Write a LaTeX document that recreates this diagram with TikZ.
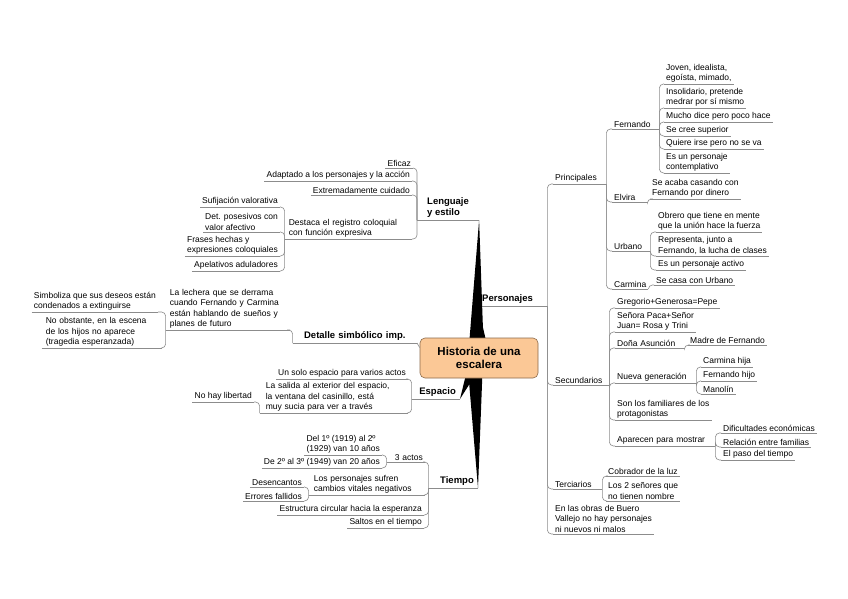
\documentclass[tikz,border=0pt]{standalone}
\usepackage{fontspec}
\setmainfont{Liberation Sans}
\usepackage{tikz}
\definecolor{LineGray}{HTML}{8C8C8C}
\definecolor{RootFill}{HTML}{FBC896}
\definecolor{RootDraw}{HTML}{8C6A4A}
\tikzset{
  uline/.style={draw=LineGray,line width=0.6pt},
  topic/.style={inner xsep=2pt,inner ysep=1.5pt,align=left,font=\fontsize{8.5}{10.4}\selectfont,
    append after command={(\tikzlastnode.south west) edge[uline] (\tikzlastnode.south east)}},
  rtopic/.style={topic,anchor=south west},
  ltopic/.style={topic,anchor=south east},
  maintopic/.style={topic,inner xsep=4pt,inner ysep=2pt,font=\bfseries\fontsize{9.5}{11.5}\selectfont},
  conn/.style={draw=LineGray,line width=0.6pt,rounded corners=4pt},
  wedge/.style={fill=black},
  central/.style={draw=RootDraw,fill=RootFill,line width=0.6pt,rounded corners=5pt,minimum width=118pt,minimum height=40pt,align=center,font=\bfseries\fontsize{11.5}{13}\selectfont}
}
\begin{document}
\begin{tikzpicture}[x=1pt,y=-1pt]
\fill[white] (0,0) rectangle (848,599);
\useasboundingbox (0,0) rectangle (848,599);

\node[maintopic,anchor=south west,text width=61pt] (pers) at (478,306) {Personajes};
\node[rtopic,text width=49pt] (prin) at (553,184) {Principales};
\node[rtopic,text width=52pt] (sec) at (553,385) {Secundarios};
\node[rtopic,text width=45pt] (terc) at (553,489) {Terciarios};
\node[rtopic] (buero) at (553,534) {En las obras de Buero\\Vallejo no hay personajes\\ni nuevos ni malos};

\node[rtopic,text width=43pt] (fer) at (612,129) {Fernando};
\node[rtopic,text width=31pt] (elv) at (612,202) {Elvira};
\node[rtopic,text width=34pt] (urb) at (612,251) {Urbano};
\node[rtopic,text width=32pt] (carm) at (612,289) {Carmina};

\node[rtopic] (fer1) at (664,84) {Joven, idealista,\\egoísta, mimado,};
\node[rtopic] (fer2) at (664,108) {Insolidario, pretende\\medrar por sí mismo};
\node[rtopic] (fer3) at (664,122) {Mucho dice pero poco hace};
\node[rtopic] (fer4) at (664,136) {Se cree superior};
\node[rtopic] (fer5) at (664,149) {Quiere irse pero no se va};
\node[rtopic] (fer6) at (664,173) {Es un personaje\\contemplativo};
\node[rtopic] (elv1) at (650,199) {Se acaba casando con\\Fernando por dinero};
\node[rtopic] (urb1) at (656,232) {Obrero que tiene en mente\\que la unión hace la fuerza};
\node[rtopic] (urb2) at (656,256) {Representa, junto a\\Fernando, la lucha de clases};
\node[rtopic] (urb3) at (656,270) {Es un personaje activo};
\node[rtopic] (carm1) at (654,285) {Se casa con Urbano};

\node[rtopic] (sec1) at (615,308) {Gregorio+Generosa=Pepe};
\node[rtopic] (sec2) at (615,332) {Señora Paca+Señor\\Juan= Rosa y Trini};
\node[rtopic,text width=65pt] (sec3) at (615,348) {Doña Asunción};
\node[rtopic,text width=77pt] (sec4) at (615,383) {Nueva generación};
\node[rtopic] (sec5) at (615,420) {Son los familiares de los\\protagonistas};
\node[rtopic,text width=96pt] (sec6) at (615,446) {Aparecen para mostrar};
\node[rtopic] (asu1) at (688,345) {Madre de Fernando};
\node[rtopic] (nue1) at (701,367) {Carmina hija};
\node[rtopic] (nue2) at (701,381) {Fernando hijo};
\node[rtopic] (nue3) at (701,394) {Manolín};
\node[rtopic] (apa1) at (721,433) {Dificultades económicas};
\node[rtopic] (apa2) at (721,447) {Relación entre familias};
\node[rtopic] (apa3) at (721,460) {El paso del tiempo};
\node[rtopic] (terc1) at (606,476) {Cobrador de la luz};
\node[rtopic] (terc2) at (606,501) {Los 2 señores que\\no tienen nombre};

\node[maintopic,anchor=south west,inner xsep=10pt] (len) at (417,220) {Lenguaje\\y estilo};
\node[ltopic] (len1) at (413,168) {Eficaz};
\node[ltopic] (len2) at (412,181) {Adaptado a los personajes y la acción};
\node[ltopic] (len3) at (412,195) {Extremadamente cuidado};
\node[ltopic,inner xsep=4pt,text width=119pt] (len4) at (412,239) {Destaca el registro coloquial\\con función expresiva};
\node[ltopic] (des1) at (280,207) {Sufijación valorativa};
\node[ltopic] (des2) at (280,232) {Det. posesivos con\\valor afectivo};
\node[ltopic] (des3) at (280,256) {Frases hechas y\\expresiones coloquiales};
\node[ltopic] (des4) at (280,271) {Apelativos aduladores};

\node[maintopic,anchor=south east,text width=116pt,align=center] (det) at (417,343) {Detalle simbólico imp.};
\node[ltopic,inner xsep=4pt,text width=116pt] (lech) at (290,330) {La lechera que se derrama\\cuando Fernando y Carmina\\están hablando de sueños y\\planes de futuro};
\node[ltopic] (lech1) at (158,312) {Simboliza que sus deseos están\\condenados a extinguirse};
\node[ltopic,inner xsep=4pt,text width=112pt] (lech2) at (162,348) {No obstante, en la escena\\de los hijos no aparece\\(tragedia esperanzada)};

\node[maintopic,anchor=south east,text width=40pt,align=right] (esp) at (460,399) {Espacio};
\node[ltopic] (esp1) at (408,379) {Un solo espacio para varios actos};
\node[ltopic,inner xsep=6pt,text width=136pt] (esp2) at (408,413) {La salida al exterior del espacio,\\la ventana del casinillo, está\\muy sucia para ver a través};
\node[ltopic] (sal1) at (254,402) {No hay libertad};

\node[maintopic,anchor=south east,text width=41pt,align=right] (tiem) at (478,488) {Tiempo};
\node[ltopic,text width=34pt,align=right] (tiem1) at (425,462) {3 actos};
\node[ltopic] (act1) at (382,455) {Del 1º (1919) al 2º\\(1929) van 10 años};
\node[ltopic] (act2) at (382,468) {De 2º al 3º (1949) van 20 años};
\node[ltopic,inner xsep=5pt,text width=106pt] (tiem2) at (425,495) {Los personajes sufren\\cambios vitales negativos};
\node[ltopic] (per1) at (304,487) {Desencantos};
\node[ltopic] (per2) at (304,501) {Errores fallidos};
\node[ltopic] (tiem3) at (424,515) {Estructura circular hacia la esperanza};
\node[ltopic] (tiem4) at (424,528) {Saltos en el tiempo};

\foreach \c in {prin,sec,terc,buero} \draw[conn] (pers.south east) |- (\c.south west);
\foreach \c in {fer,elv,urb,carm} \draw[conn] (prin.south east) |- (\c.south west);
\foreach \c in {fer1,fer2,fer3,fer4,fer5,fer6} \draw[conn] (fer.south east) |- (\c.south west);
\draw[conn] (elv.south east) |- (elv1.south west);
\foreach \c in {urb1,urb2,urb3} \draw[conn] (urb.south east) |- (\c.south west);
\draw[conn] (carm.south east) |- (carm1.south west);
\foreach \c in {sec1,sec2,sec3,sec4,sec5,sec6} \draw[conn] (sec.south east) |- (\c.south west);
\draw[conn] (sec3.south east) |- (asu1.south west);
\foreach \c in {nue1,nue2,nue3} \draw[conn] (sec4.south east) |- (\c.south west);
\foreach \c in {apa1,apa2,apa3} \draw[conn] (sec6.south east) |- (\c.south west);
\foreach \c in {terc1,terc2} \draw[conn] (terc.south east) |- (\c.south west);

\foreach \c in {len1,len2,len3,len4} \draw[conn] (len.south west) |- (\c.south east);
\foreach \c in {des1,des2,des3,des4} \draw[conn] (len4.south west) |- (\c.south east);
\draw[conn] (det.south west) |- (lech.south east);
\foreach \c in {lech1,lech2} \draw[conn] (lech.south west) |- (\c.south east);
\foreach \c in {esp1,esp2} \draw[conn] (esp.south west) |- (\c.south east);
\draw[conn] (esp2.south west) |- (sal1.south east);
\foreach \c in {tiem1,tiem2,tiem3,tiem4} \draw[conn] (tiem.south west) |- (\c.south east);
\foreach \c in {act1,act2} \draw[conn] (tiem1.south west) |- (\c.south east);
\foreach \c in {per1,per2} \draw[conn] (tiem2.south west) |- (\c.south east);

\coordinate (c) at (479,358);
\fill[wedge] (len.south east) -- ([xshift=-11pt]c) -- ([xshift=5pt]c) -- cycle;
\fill[wedge] (pers.south west) -- ([xshift=3pt]c) -- ([xshift=11pt]c) -- cycle;
\fill[wedge] (esp.south east) -- ([xshift=-9pt]c) -- ([xshift=7pt]c) -- cycle;
\fill[wedge] (tiem.south east) -- ([xshift=-12pt]c) -- ([xshift=4pt]c) -- cycle;
\node[central] (root) at (c) {Historia de una\\escalera};
\draw[conn] (det.south east) -- (root.170);
\end{tikzpicture}
\end{document}
